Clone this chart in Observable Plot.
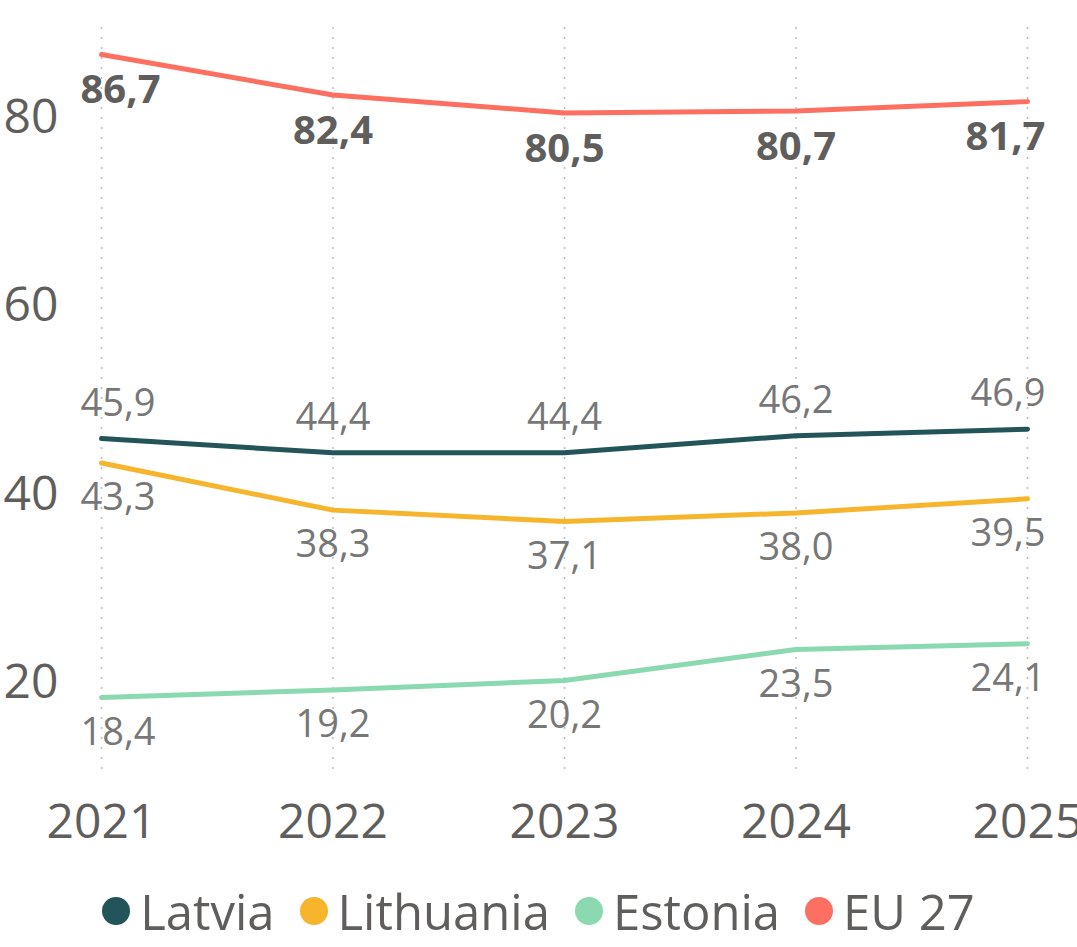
<!DOCTYPE html>
<html>
<head>
<meta charset="utf-8">
<script src="https://cdn.jsdelivr.net/npm/d3@7"></script>
<script src="https://cdn.jsdelivr.net/npm/@observablehq/plot@0.6"></script>
<style>
  html, body { margin: 0; padding: 0; background: #fff; }
  body { width: 1077px; overflow: hidden; font-family: "Open Sans", sans-serif; }
  #legend { height: 82px; display: flex; justify-content: center; align-items: center; gap: 25px;
            font-size: 49px; line-height: 1; color: #605E5C; }
  #legend .item { display: flex; align-items: center; }
  #legend .dot { width: 28px; height: 28px; border-radius: 50%; margin-right: 10px; }
</style>
</head>
<body>
<div id="chart"></div>
<div id="legend"></div>
<script>
const years = [2021, 2022, 2023, 2024, 2025];
const seriesNames = ["Latvia", "Lithuania", "Estonia", "EU 27"];
const latvia = [45.9, 44.4, 44.4, 46.2, 46.9];
const lithuania = [43.3, 38.3, 37.1, 38.0, 39.5];
const estonia = [18.4, 19.2, 20.2, 23.5, 24.1];
const eu27 = [86.7, 82.4, 80.5, 80.7, 81.7];
const yTicks = [20, 40, 60, 80];
const seriesColors = ["#235459", "#F7B52D", "#8AD9B1", "#FD6F61"];

const values = {"Latvia": latvia, "Lithuania": lithuania, "Estonia": estonia, "EU 27": eu27};
const rows = seriesNames.flatMap(s => years.map((y, i) => ({series: s, year: y, value: values[s][i]})));
const fmt = v => v.toFixed(1).replace(".", ",");

// label placement: offset above (-) or below (+) the point, bold for EU
const labelStyle = {
  "Latvia": {dy: -35, bold: false},
  "Lithuania": {dy: 35, bold: false},
  "Estonia": {dy: 35, bold: false},
  "EU 27": {dy: 36, bold: true}
};

function labels(s) {
  const st = labelStyle[s];
  const base = {
    x: "year", y: "value", text: d => fmt(d.value), dy: st.dy,
    fontSize: st.bold ? 40 : 38,
    fontWeight: st.bold ? "bold" : "normal",
    fill: st.bold ? "#605E5C" : "#777777"
  };
  const data = rows.filter(d => d.series === s);
  const first = years[0], last = years[years.length - 1];
  return [
    Plot.text(data.filter(d => d.year === first), {...base, textAnchor: "start", dx: -21}),
    Plot.text(data.filter(d => d.year !== first && d.year !== last), {...base, textAnchor: "middle"}),
    Plot.text(data.filter(d => d.year === last), {...base, textAnchor: "end", dx: 18})
  ];
}

const chart = Plot.plot({
  width: 1077,
  height: 870,
  marginLeft: 101,
  marginRight: 50,
  marginTop: 23,
  marginBottom: 94,
  style: {fontFamily: "'Open Sans', sans-serif", color: "#605E5C", background: "#fff", overflow: "visible"},
  x: {domain: [years[0], years[years.length - 1]]},
  y: {domain: [10, 90]},
  color: {domain: seriesNames, range: seriesColors},
  marks: [
    Plot.gridX({ticks: years, stroke: "#bdbdbd", strokeOpacity: 1, strokeWidth: 1.5, strokeDasharray: "2,8", insetTop: 4}),
    Plot.axisY({ticks: yTicks, tickSize: 0, tickPadding: 43, fontSize: 48, label: null, fill: "#605E5C"}),
    Plot.axisX({ticks: years, tickFormat: d => String(d), tickSize: 0, tickPadding: 27, fontSize: 48, label: null, fill: "#605E5C"}),
    Plot.line(rows, {x: "year", y: "value", z: "series", stroke: "series", strokeWidth: 5, strokeLinecap: "round", strokeLinejoin: "round"}),
    ...seriesNames.flatMap(labels)
  ]
});
document.getElementById("chart").appendChild(chart);

const legend = document.getElementById("legend");
seriesNames.forEach((s, i) => {
  const item = document.createElement("div");
  item.className = "item";
  const dot = document.createElement("span");
  dot.className = "dot";
  dot.style.background = seriesColors[i];
  const label = document.createElement("span");
  label.textContent = s;
  item.appendChild(dot);
  item.appendChild(label);
  legend.appendChild(item);
});
</script>
</body>
</html>
